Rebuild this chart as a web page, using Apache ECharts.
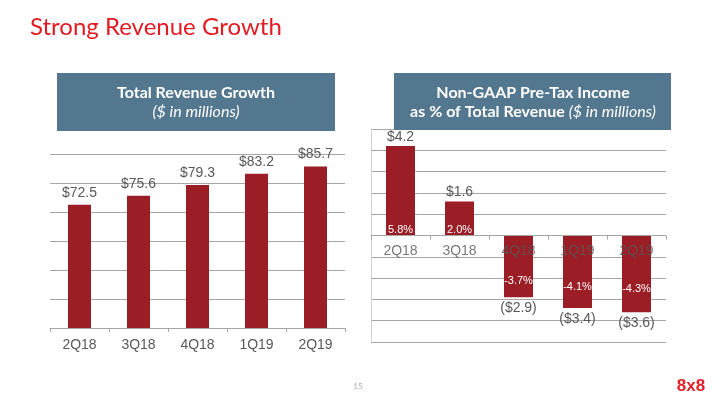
<!DOCTYPE html>
<html>
<head>
<meta charset="utf-8">
<script src="https://cdn.jsdelivr.net/npm/echarts@6/dist/echarts.min.js"></script>
<style>
html,body{margin:0;padding:0;background:#fff;}
#c{width:720px;height:405px;}
</style>
</head>
<body>
<div id="c"></div>
<script>
var quarters = ['2Q18', '3Q18', '4Q18', '1Q19', '2Q19'];
var revenue = [72.5, 75.6, 79.3, 83.2, 85.7];
var pretax = [4.2, 1.6, -2.9, -3.4, -3.6];
var pretaxPct = [5.8, 2.0, -3.7, -4.1, -4.3];

var BAR = '#9b1d25';
var BOX = '#52778f';
var GRAYTXT = '#595959';
var LINE = '#a6a6a6';

var chart = echarts.init(document.getElementById('c'));

function dollar(v) {
  return v >= 0 ? '$' + v.toFixed(1) : '($' + Math.abs(v).toFixed(1) + ')';
}

var rightGridTop = 129, rightGridBottom = 63;
var rightGridHeight = 405 - rightGridTop - rightGridBottom;

var option = {
  animation: false,
  title: {
    text: 'Strong Revenue Growth',
    left: 25, top: 10,
    textStyle: {fontFamily: 'Lato', fontWeight: 'normal', fontSize: 24, color: '#e31b23'}
  },
  grid: [
    {left: 50, right: 375, top: 154, bottom: 77},
    {left: 371, right: 54, top: rightGridTop, bottom: rightGridBottom}
  ],
  xAxis: [
    {
      gridIndex: 0, type: 'category', data: quarters,
      axisLine: {lineStyle: {color: LINE}},
      axisTick: {show: true, length: 4, lineStyle: {color: LINE}},
      axisLabel: {color: GRAYTXT, fontFamily: 'Liberation Sans', fontSize: 14, margin: 10}
    },
    {
      gridIndex: 1, type: 'category', data: quarters, z: 6,
      position: 'bottom', offset: -rightGridHeight / 2,
      axisLine: {onZero: false, lineStyle: {color: LINE}},
      axisTick: {show: true, length: 4, lineStyle: {color: LINE}},
      axisLabel: {color: 'rgba(89,89,89,0.8)', fontFamily: 'Liberation Sans', fontSize: 14, margin: 9}
    }
  ],
  yAxis: [
    {
      gridIndex: 0, type: 'value', min: 30, max: 90, interval: 10,
      axisLine: {show: false}, axisTick: {show: false}, axisLabel: {show: false},
      splitLine: {lineStyle: {color: LINE}}
    },
    {
      gridIndex: 1, type: 'value', min: -5, max: 5, interval: 1,
      axisLine: {show: true, lineStyle: {color: '#c8c8c8', type: 'dotted'}},
      axisTick: {show: false}, axisLabel: {show: false},
      splitLine: {lineStyle: {color: LINE}}
    }
  ],
  series: [
    {
      type: 'bar', xAxisIndex: 0, yAxisIndex: 0, data: revenue,
      barWidth: 23, itemStyle: {color: BAR},
      label: {
        show: true, position: 'top', distance: 5,
        color: GRAYTXT, fontFamily: 'Liberation Sans', fontSize: 14,
        formatter: function (p) { return dollar(p.value); }
      }
    },
    {
      type: 'bar', xAxisIndex: 1, yAxisIndex: 1,
      barWidth: 29, itemStyle: {color: BAR}, z: 3,
      data: pretax.map(function (v) {
        return {value: v, label: {position: v >= 0 ? 'top' : 'bottom', distance: v >= 0 ? 2 : 4}};
      }),
      label: {
        show: true,
        color: GRAYTXT, fontFamily: 'Liberation Sans', fontSize: 14,
        formatter: function (p) { return dollar(p.value); }
      }
    },
    {
      type: 'bar', xAxisIndex: 1, yAxisIndex: 1,
      barWidth: 29, barGap: '-100%', z: 4,
      itemStyle: {color: 'rgba(0,0,0,0)'},
      data: pretax.map(function (v) {
        return {
          value: v,
          label: v >= 0 ? {position: 'insideBottom', distance: 0} : {position: 'inside', offset: [0, 15]}
        };
      }),
      label: {
        show: true, color: '#ffffff', fontFamily: 'Liberation Sans', fontSize: 11,
        formatter: function (p) { return pretaxPct[p.dataIndex].toFixed(1) + '%'; }
      }
    }
  ],
  graphic: [
    {
      type: 'rect', z: 10,
      shape: {x: 57, y: 73, width: 278, height: 58},
      style: {fill: BOX}
    },
    {
      type: 'text', z: 11, x: 196, y: 93,
      style: {
        text: 'Total Revenue Growth', fill: '#fff', fontFamily: 'Lato', fontWeight: 'bold',
        fontSize: 16, textAlign: 'center', textVerticalAlign: 'middle'
      }
    },
    {
      type: 'text', z: 11, x: 196, y: 112,
      style: {
        text: '($ in millions)', fill: '#fff', fontFamily: 'Lato', fontStyle: 'italic',
        fontSize: 16, textAlign: 'center', textVerticalAlign: 'middle'
      }
    },
    {
      type: 'rect', z: 10,
      shape: {x: 394, y: 73, width: 277, height: 57},
      style: {fill: BOX}
    },
    {
      type: 'text', z: 11, x: 533, y: 93,
      style: {
        text: 'Non-GAAP Pre-Tax Income', fill: '#fff', fontFamily: 'Lato', fontWeight: 'bold',
        fontSize: 16, textAlign: 'center', textVerticalAlign: 'middle'
      }
    },
    {
      type: 'text', z: 11, x: 533, y: 112,
      style: {
        text: '{b|as % of Total Revenue }{i|($ in millions)}',
        textAlign: 'center', textVerticalAlign: 'middle',
        rich: {
          b: {fill: '#fff', color: '#fff', fontFamily: 'Lato', fontWeight: 'bold', fontSize: 16},
          i: {fill: '#fff', color: '#fff', fontFamily: 'Lato', fontStyle: 'italic', fontSize: 16}
        }
      }
    },
    {
      type: 'text', x: 358, y: 386,
      style: {text: '15', fill: '#aaaaaa', fontFamily: 'Lato', fontSize: 8, textAlign: 'center', textVerticalAlign: 'middle'}
    },
    {
      type: 'text', x: 691, y: 386,
      style: {text: '8x8', fill: '#e4202a', fontFamily: 'Liberation Sans', fontWeight: 'bold', fontSize: 17, textAlign: 'center', textVerticalAlign: 'middle'}
    }
  ]
};
chart.setOption(option);
</script>
</body>
</html>
